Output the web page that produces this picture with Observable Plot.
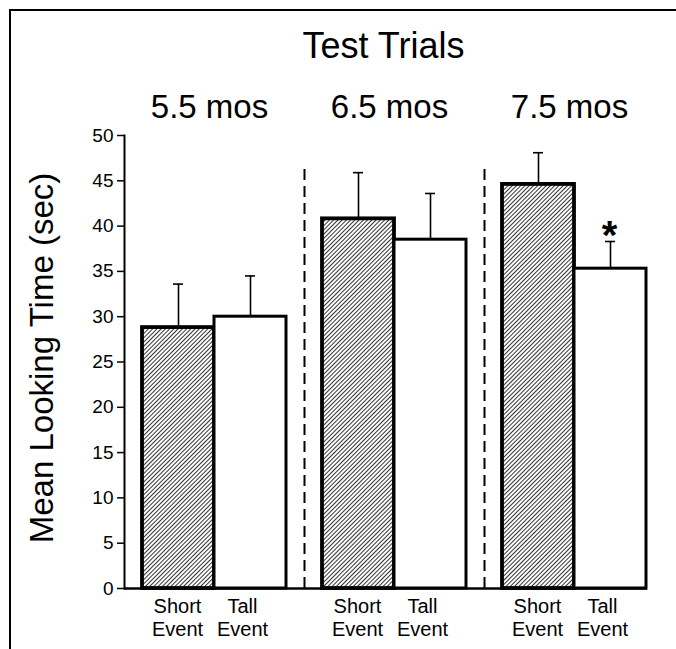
<!DOCTYPE html>
<html><head><meta charset="utf-8">
<script src="https://cdn.jsdelivr.net/npm/d3@7"></script>
<script src="https://cdn.jsdelivr.net/npm/@observablehq/plot@0.6"></script>
<style>
html,body{margin:0;padding:0;background:#fff;}
#wrap{position:relative;width:676px;height:649px;overflow:hidden;}
#border{position:absolute;left:9px;top:9px;width:700px;height:700px;border-top:2px solid #000;border-left:2px solid #000;pointer-events:none;}
</style></head><body>
<div id="wrap"><div id="chart"></div><div id="border"></div></div>
<script>
const ages = ["5.5 mos", "6.5 mos", "7.5 mos"];
const conditions = ["Short Event", "Tall Event"];
const conditionLabels = ["Short\nEvent", "Tall\nEvent"];
const shortMeans = [28.8, 40.8, 44.6];
const shortErrors = [4.8, 5.1, 3.5];
const tallMeans = [30.0, 38.5, 35.3];
const tallErrors = [4.5, 5.1, 3.0];
const tallSignificant = [false, false, true];
const yTicks = [0, 5, 10, 15, 20, 25, 30, 35, 40, 45, 50];
const title = "Test Trials";
const yLabel = "Mean Looking Time (sec)";
const separatorTop = 46.8;

const FONT = "'Liberation Sans', Arial, Helvetica, sans-serif";
const key = (a, c) => a + " | " + c;
const xDomain = ages.flatMap(a => conditions.map(c => key(a, c)));
const shortRows = ages.map((a, i) => ({age: a, key: key(a, conditions[0]), mean: shortMeans[i], err: shortErrors[i], label: conditionLabels[0]}));
const tallRows = ages.map((a, i) => ({age: a, key: key(a, conditions[1]), mean: tallMeans[i], err: tallErrors[i], label: conditionLabels[1], sig: tallSignificant[i]}));
const separators = shortRows.slice(1);

const chart = Plot.plot({
  width: 676, height: 649,
  marginLeft: 124, marginRight: 12, marginTop: 135, marginBottom: 61,
  style: {fontFamily: FONT, color: "#000", background: "#fff", overflow: "visible"},
  x: {type: "band", domain: xDomain, padding: 0, axis: null},
  y: {domain: [0, 50]},
  marks: [
    Plot.ruleX(separators, {x: "key", y1: 0, y2: separatorTop, dx: -45, stroke: "#000", strokeWidth: 2, strokeDasharray: "11,6"}),
    Plot.barY(shortRows, {x: "key", y: "mean", insetLeft: 18, fill: "url(#hatch)", stroke: "#000", strokeWidth: 3.8}),
    Plot.barY(tallRows, {x: "key", y: "mean", insetRight: 18, fill: "#fff", stroke: "#000", strokeWidth: 3}),
    Plot.ruleX(shortRows, {x: "key", y1: "mean", y2: d => d.mean + d.err, dx: 9, stroke: "#000", strokeWidth: 1.6}),
    Plot.ruleX(tallRows, {x: "key", y1: "mean", y2: d => d.mean + d.err, dx: -9, stroke: "#000", strokeWidth: 1.6}),
    Plot.tickY(shortRows, {x: "key", y: d => d.mean + d.err, insetLeft: 49, insetRight: 31, stroke: "#000", strokeWidth: 1.6}),
    Plot.tickY(tallRows, {x: "key", y: d => d.mean + d.err, insetLeft: 31, insetRight: 49, stroke: "#000", strokeWidth: 1.6}),
    Plot.text(tallRows.filter(d => d.sig), {x: "key", y: d => d.mean + d.err, text: () => "*", dx: -10, dy: -21, lineAnchor: "top", fontSize: 40, fontWeight: "bold"}),
    Plot.frame({anchor: "left", stroke: "#000", strokeWidth: 2}),
    Plot.ruleY([0], {stroke: "#000", strokeWidth: 2.5, insetRight: 17}),
    Plot.axisY({ticks: yTicks, tickSize: 7, tickPadding: 4, fontSize: 19, strokeWidth: 1.5, label: null}),
    Plot.text(shortRows, {x: "key", y: 0, text: "label", dx: 8, dy: 9, lineAnchor: "top", fontSize: 20, lineHeight: 1.12}),
    Plot.text(tallRows, {x: "key", y: 0, text: "label", dx: -17, dy: 9, lineAnchor: "top", fontSize: 20, lineHeight: 1.12}),
    Plot.text(tallRows, {x: "key", frameAnchor: "top", text: "age", dx: -50, dy: -18, lineAnchor: "bottom", fontSize: 33}),
    Plot.text([title], {frameAnchor: "top", dx: -11, dy: -78, lineAnchor: "bottom", fontSize: 36}),
    Plot.text([yLabel], {frameAnchor: "left", rotate: -90, dx: -82, dy: -4, lineAnchor: "middle", textAnchor: "middle", fontSize: 33})
  ]
});

const svg = chart.tagName.toLowerCase() === "svg" ? chart : chart.querySelector("svg");
const ns = "http://www.w3.org/2000/svg";
const defs = document.createElementNS(ns, "defs");
defs.innerHTML = '<pattern id="hatch" patternUnits="userSpaceOnUse" width="3" height="3" patternTransform="rotate(45)"><rect width="3" height="3" fill="#fff"/><line x1="1.5" y1="0" x2="1.5" y2="3" stroke="#333" stroke-width="1.05"/></pattern>';
svg.insertBefore(defs, svg.firstChild);
document.getElementById("chart").appendChild(chart);
</script>
</body></html>
